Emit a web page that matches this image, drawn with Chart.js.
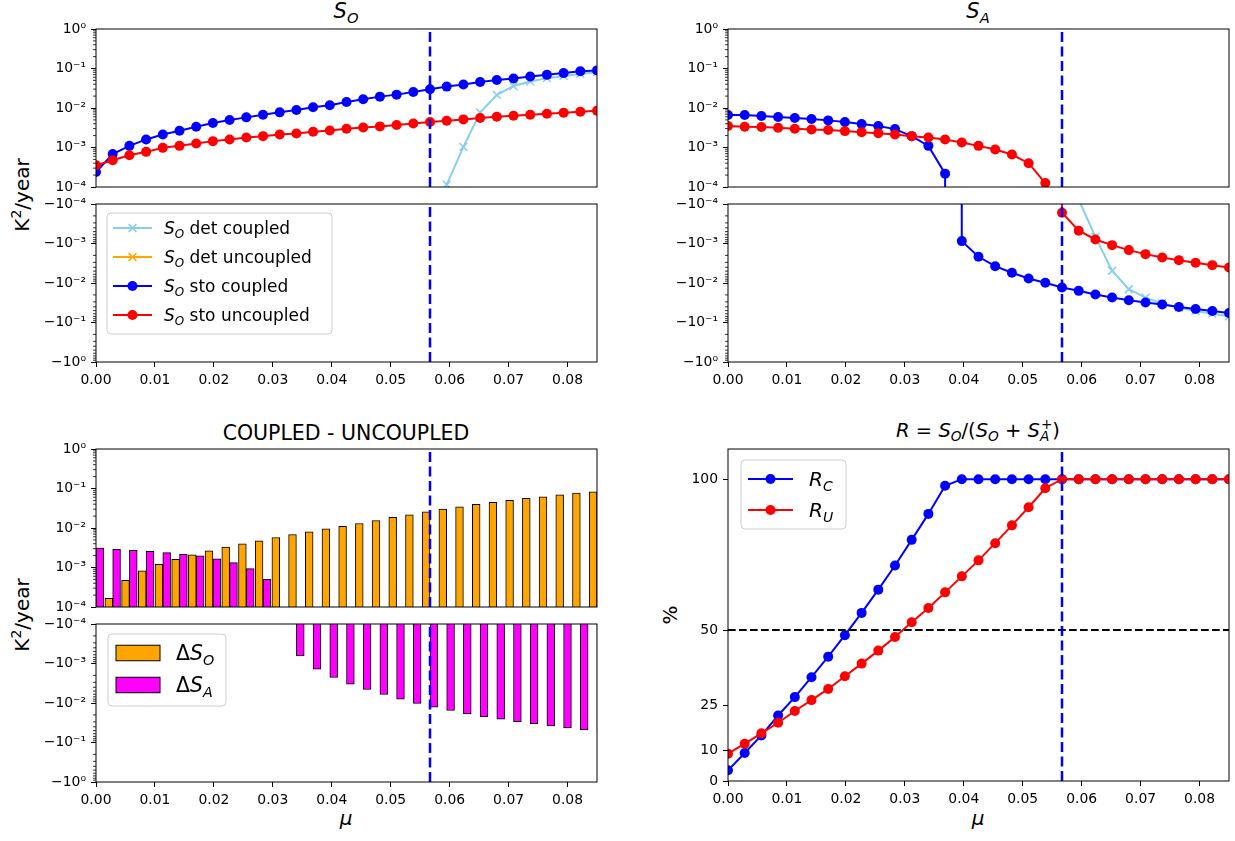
<!DOCTYPE html>
<html lang="en">

<head>
  <meta charset="UTF-8">
  <title>S_O and S_A versus mu</title>
  <style>
    body { margin: 0; background: #fff; }
    #fig { position: relative; width: 1235px; height: 841px; overflow: hidden; font-family: 'DejaVu Sans', sans-serif; color: #000; }
    .panel { position: absolute; }
    .panel canvas { display: block; }
    .lbl { position: absolute; white-space: nowrap; line-height: normal; transform: translate(-50%, -50%); }
    .lbl sub, .lbl sup { font-size: 70%; vertical-align: baseline; position: relative; }
    .lbl sub { top: 0.32em; }
    .lbl sup { top: -0.6em; }
    .lbl .ov { margin-left: -0.62em; }
    .rot { transform: translate(-50%, -50%) rotate(-90deg); }
  </style>
</head>

<body>
  <div id="fig">
    <div class="lbl" style="left:346px; top:11px; font-size:21px"><i>S</i><sub><i>O</i></sub></div>
    <div class="lbl" style="left:978px; top:11px; font-size:21px"><i>S</i><sub><i>A</i></sub></div>
    <div class="lbl" style="left:346px; top:433px; font-size:20.5px">COUPLED - UNCOUPLED</div>
    <div class="lbl" style="left:978px; top:430px; font-size:19.5px"><i>R</i> = <i>S</i><sub><i>O</i></sub>/(<i>S</i><sub><i>O</i></sub> + <i>S</i><sub><i>A</i></sub><sup class="ov">+</sup>)</div>
    <div class="lbl rot" style="left:22px; top:195px; font-size:20px">K<sup>2</sup>/year</div>
    <div class="lbl rot" style="left:22px; top:615px; font-size:20px">K<sup>2</sup>/year</div>
    <div class="lbl rot" style="left:670px; top:615px; font-size:20px">%</div>
    <div class="lbl" style="left:346px; top:818px; font-size:20px"><i>μ</i></div>
    <div class="lbl" style="left:978px; top:818px; font-size:20px"><i>μ</i></div>
  </div>

  <script src="https://cdn.jsdelivr.net/npm/chart.js"></script>
  <script>
    // mu grid, 31 values from 0 to 0.085
    const MU = [0, 0.002833, 0.005667, 0.0085, 0.011333, 0.014167, 0.017, 0.019833, 0.022667, 0.0255,
      0.028333, 0.031167, 0.034, 0.036833, 0.039667, 0.0425, 0.045333, 0.048167, 0.051, 0.053833,
      0.056667, 0.0595, 0.062333, 0.065167, 0.068, 0.070833, 0.073667, 0.0765, 0.079333, 0.082167, 0.085];
    const MU_CRIT = 0.056667;

    const X_TICKS = [0, 0.01, 0.02, 0.03, 0.04, 0.05, 0.06, 0.07, 0.08];
    const LOG_TICKS = [1e-4, 1e-3, 1e-2, 1e-1, 1];
    const R_TICKS = [0, 10, 25, 50, 100];

    const N = null;

    // S_O in K^2/year
    const SO_DET_C = [N, N, N, N, N, N, N, N, N, N, N, N, N, N, N, N, N, N, N, N, N,
      1.15e-4, 1.04e-3, 7.7e-3, 2.14e-2, 3.6e-2, 4.7e-2, 5.7e-2, 6.5e-2, 7.3e-2, 8.1e-2];
    const SO_DET_U = [N, N, N, N, N, N, N, N, N, N, N, N, N, N, N, N, N, N, N, N, N, N, N, N, N, N, N, N, N, N, N];
    const SO_STO_C = [2.4e-4, 6.8e-4, 1.10e-3, 1.60e-3, 2.14e-3, 2.65e-3, 3.35e-3, 4.16e-3, 4.95e-3, 5.79e-3,
      6.77e-3, 7.76e-3, 8.9e-3, 1.04e-2, 1.17e-2, 1.42e-2, 1.66e-2, 1.94e-2, 2.18e-2, 2.55e-2,
      2.98e-2, 3.48e-2, 3.92e-2, 4.55e-2, 5.1e-2, 5.6e-2, 6.27e-2, 6.9e-2, 7.65e-2, 8.5e-2, 8.95e-2];
    const SO_STO_U = [3.56e-4, 4.76e-4, 6.38e-4, 7.76e-4, 9.8e-4, 1.10e-3, 1.26e-3, 1.45e-3, 1.60e-3, 1.80e-3,
      1.94e-3, 2.14e-3, 2.27e-3, 2.50e-3, 2.70e-3, 2.98e-3, 3.22e-3, 3.42e-3, 3.70e-3, 4.07e-3,
      4.4e-3, 4.76e-3, 5.15e-3, 5.57e-3, 6.03e-3, 6.38e-3, 6.77e-3, 7.18e-3, 7.6e-3, 8.07e-3, 8.55e-3];

    // S_A in K^2/year
    const SA_DET_C = [N, N, N, N, N, N, N, N, N, N, N, N, N, N, N, N, N, N, N, N, N,
      -7.7e-5, -6.8e-4, -4.9e-3, -1.44e-2, -2.34e-2, -3.3e-2, -4.2e-2, -5.1e-2, -5.96e-2, -7.0e-2];
    const SA_DET_U = [N, N, N, N, N, N, N, N, N, N, N, N, N, N, N, N, N, N, N, N, N, N, N, N, N, N, N, N, N, N, N];
    const SA_STO_C = [6.64e-3, 6.64e-3, 6.26e-3, 5.9e-3, 5.57e-3, 5.25e-3, 4.86e-3, 4.4e-3, 3.92e-3, 3.49e-3,
      2.92e-3, 1.94e-3, 1.10e-3, 2.18e-4, -8.7e-4, -2.17e-3, -3.75e-3, -5.5e-3, -7.7e-3, -9.9e-3,
      -1.30e-2, -1.58e-2, -1.96e-2, -2.34e-2, -2.73e-2, -3.13e-2, -3.52e-2, -4.04e-2, -4.53e-2, -5.09e-2, -5.73e-2];
    const SA_STO_U = [3.49e-3, 3.35e-3, 3.29e-3, 3.16e-3, 2.98e-3, 2.87e-3, 2.76e-3, 2.60e-3, 2.45e-3, 2.31e-3,
      2.14e-3, 1.94e-3, 1.80e-3, 1.60e-3, 1.34e-3, 1.10e-3, 8.9e-4, 6.64e-4, 4.0e-4, 1.26e-4,
      -1.66e-4, -4.75e-4, -7.9e-4, -1.10e-3, -1.47e-3, -1.86e-3, -2.26e-3, -2.64e-3, -3.08e-3, -3.53e-3, -4.04e-3];

    // coupled - uncoupled
    const D_SO = [N, 1.66e-4, 4.75e-4, 8.2e-4, 1.21e-3, 1.62e-3, 2.08e-3, 2.64e-3, 3.27e-3, 3.97e-3,
      4.73e-3, 5.74e-3, 6.84e-3, 8.0e-3, 9.5e-3, 1.11e-2, 1.30e-2, 1.55e-2, 1.85e-2, 2.16e-2,
      2.57e-2, 3.0e-2, 3.44e-2, 3.95e-2, 4.44e-2, 4.99e-2, 5.6e-2, 6.18e-2, 6.94e-2, 7.65e-2, 8.27e-2];
    const D_SA = [3.08e-3, 2.90e-3, 2.74e-3, 2.58e-3, 2.39e-3, 2.17e-3, 1.97e-3, 1.65e-3, 1.33e-3, 9.4e-4,
      5.04e-4, N, -6.4e-4, -1.39e-3, -2.26e-3, -3.33e-3, -4.55e-3, -6.1e-3, -8.0e-3, -1.03e-2,
      -1.28e-2, -1.55e-2, -1.89e-2, -2.25e-2, -2.58e-2, -2.95e-2, -3.32e-2, -3.8e-2, -4.28e-2, -4.8e-2, -5.3e-2];

    // R = S_O / (S_O + S_A+), percent
    const R_C = [3.54, 9.27, 15.1, 21.7, 27.8, 34.4, 41.2, 48.3, 55.7, 63.4,
      71.4, 79.9, 88.5, 97.8, 100, 100, 100, 100, 100, 100,
      100, 100, 100, 100, 100, 100, 100, 100, 100, 100, 100];
    const R_U = [9.05, 12.36, 15.8, 19.3, 23.2, 26.8, 30.5, 34.7, 38.9, 43.2,
      47.7, 52.6, 57.3, 62.5, 67.8, 73.1, 78.8, 84.7, 90.7, 97.0,
      100, 100, 100, 100, 100, 100, 100, 100, 100, 100, 100];

    const BLUE = '#0000ff', RED = '#ff0000', SKY = '#87ceeb', ORANGE = '#ffa500', MAGENTA = '#ff00ff';
    const FONT = "'DejaVu Sans', sans-serif";
    const TICK_FONT = { size: 13.9, family: FONT };
    const YW = 75, PADT = 16, PADR = 14, PADB = 16, XH = 30;

    Chart.defaults.font.family = FONT;
    Chart.defaults.color = '#000';

    const SUP = { '-': '⁻', '0': '⁰', '1': '¹', '2': '²', '3': '³', '4': '⁴' };
    function logLabel(v, neg) {
      const e = String(Math.round(Math.log10(v)));
      return (neg ? '−' : '') + '10' + e.split('').map(c => SUP[c]).join('');
    }

    // split a signed series over the two log axes; values of the wrong sign
    // sink to a tiny number, like matplotlib's clipping of non-positive values
    function posPart(arr) {
      return MU.map((m, i) => ({ x: m, y: arr[i] == null ? null : (arr[i] > 0 ? arr[i] : 1e-300) }));
    }
    function negPart(arr) {
      return MU.map((m, i) => ({ x: m, y: arr[i] == null ? null : (arr[i] < 0 ? -arr[i] : 1e-300) }));
    }
    function barPart(arr, sign) {
      return MU.map((m, i) => ({ x: m, y: arr[i] != null && arr[i] * sign > 0 ? Math.abs(arr[i]) : null }));
    }
    function plain(arr) {
      return MU.map((m, i) => ({ x: m, y: arr[i] }));
    }

    function series(data, color, marker) {
      const x = marker === 'x';
      return {
        type: 'line', data, borderColor: color, backgroundColor: color, borderWidth: 2,
        pointStyle: x ? 'crossRot' : 'circle', pointRadius: x ? 5.5 : 5,
        pointBorderWidth: x ? 1.5 : 0, pointBackgroundColor: color, pointBorderColor: color,
        tension: 0, spanGaps: false, clip: 0
      };
    }
    function bars(data, color) {
      return {
        type: 'bar', data, backgroundColor: color, borderColor: '#000', borderWidth: 1,
        barThickness: 7.8, grouped: true, clip: 0
      };
    }
    function vline(from, to) {
      return {
        type: 'line', data: [{ x: MU_CRIT, y: from }, { x: MU_CRIT, y: to }],
        borderColor: BLUE, borderWidth: 2.5, borderDash: [10, 4.5], pointRadius: 0, clip: 0
      };
    }
    function hline(y) {
      return {
        type: 'line', data: [{ x: 0, y: y }, { x: 0.085, y: y }],
        borderColor: '#000', borderWidth: 2, borderDash: [7.7, 3.3], pointRadius: 0, clip: 0
      };
    }

    const tickGrid = { display: true, drawOnChartArea: false, drawTicks: true, tickLength: 5, tickColor: '#000', tickWidth: 1, offset: false };

    function xScale(show) {
      const sc = {
        type: 'linear', min: 0, max: 0.085, offset: false, display: show,
        ticks: { callback: v => v.toFixed(2), padding: 5, maxRotation: 0, autoSkip: false, font: TICK_FONT, color: '#000' },
        grid: tickGrid, border: { display: false }
      };
      if (show) {
        sc.afterBuildTicks = s => { s.ticks = X_TICKS.map(v => ({ value: v })); };
        sc.afterFit = s => { s.height = XH; };
      }
      return sc;
    }
    function yLog(neg) {
      return {
        type: 'logarithmic', min: 1e-4, max: 1, reverse: neg,
        afterBuildTicks: s => { s.ticks = LOG_TICKS.map(v => ({ value: v })); },
        afterFit: s => { s.width = YW; },
        ticks: { callback: v => logLabel(v, neg), autoSkip: false, padding: 5, font: TICK_FONT, color: '#000' },
        grid: tickGrid, border: { display: false }
      };
    }
    function yPercent() {
      return {
        type: 'linear', min: 0, max: 110,
        afterBuildTicks: s => { s.ticks = R_TICKS.map(v => ({ value: v })); },
        afterFit: s => { s.width = YW; },
        ticks: { callback: v => String(v), autoSkip: false, padding: 5, font: TICK_FONT, color: '#000' },
        grid: tickGrid, border: { display: false }
      };
    }

    // axes box, all four sides
    const framePlugin = {
      id: 'frame',
      afterDatasetsDraw(chart) {
        const a = chart.chartArea, ctx = chart.ctx;
        ctx.save();
        ctx.strokeStyle = '#000';
        ctx.lineWidth = 1;
        ctx.strokeRect(a.left, a.top, a.right - a.left, a.bottom - a.top);
        ctx.restore();
      }
    };

    // log minor ticks 2..9 x 10^k
    const minorPlugin = {
      id: 'minorTicks',
      afterDraw(chart, args, opts) {
        if (!opts.on) return;
        const ys = chart.scales.y, a = chart.chartArea, ctx = chart.ctx;
        ctx.save();
        ctx.strokeStyle = '#000';
        ctx.lineWidth = 0.8;
        ctx.beginPath();
        LOG_TICKS.slice(0, -1).forEach(d => {
          for (let m = 2; m <= 9; m++) {
            const py = ys.getPixelForValue(d * m);
            ctx.moveTo(a.left, py);
            ctx.lineTo(a.left - 3, py);
          }
        });
        ctx.stroke();
        ctx.restore();
      }
    };

    function drawRich(ctx, parts, x, y, size) {
      ctx.textAlign = 'left';
      ctx.textBaseline = 'alphabetic';
      ctx.fillStyle = '#000';
      const base = y + size * 0.36;
      parts.forEach(([t, f]) => {
        const small = f.includes('s') || f.includes('p');
        const fs = small ? size * 0.7 : size;
        ctx.font = (f.includes('i') ? 'italic ' : '') + fs + 'px ' + FONT;
        const dy = f.includes('s') ? size * 0.22 : (f.includes('p') ? -size * 0.4 : 0);
        ctx.fillText(t, x, base + dy);
        x += ctx.measureText(t).width;
      });
    }

    // matplotlib-like legend box with math-style labels
    const legendPlugin = {
      id: 'richLegend',
      afterDraw(chart, args, o) {
        if (!o.rows) return;
        const ctx = chart.ctx, a = chart.chartArea;
        const x0 = a.left + o.x, y0 = a.top + o.y;
        ctx.save();
        ctx.beginPath();
        ctx.roundRect(x0, y0, o.w, o.h, 4);
        ctx.fillStyle = 'rgba(255,255,255,0.8)';
        ctx.fill();
        ctx.strokeStyle = '#cccccc';
        ctx.lineWidth = 1;
        ctx.stroke();
        o.rows.forEach((r, k) => {
          const cy = a.top + o.row0 + k * o.gap;
          const hx = a.left + o.hx;
          const mx = hx + o.hw / 2;
          if (r.mark === 'bar') {
            ctx.fillStyle = r.color;
            ctx.fillRect(hx, cy - o.hh / 2, o.hw, o.hh);
            ctx.strokeStyle = '#000';
            ctx.lineWidth = 1;
            ctx.strokeRect(hx, cy - o.hh / 2, o.hw, o.hh);
          } else {
            ctx.strokeStyle = r.color;
            ctx.lineWidth = 2;
            ctx.beginPath();
            ctx.moveTo(hx, cy);
            ctx.lineTo(hx + o.hw, cy);
            ctx.stroke();
            if (r.mark === 'o') {
              ctx.fillStyle = r.color;
              ctx.beginPath();
              ctx.arc(mx, cy, 5, 0, Math.PI * 2);
              ctx.fill();
            } else {
              ctx.lineWidth = 1.5;
              ctx.beginPath();
              ctx.moveTo(mx - 3.9, cy - 3.9); ctx.lineTo(mx + 3.9, cy + 3.9);
              ctx.moveTo(mx - 3.9, cy + 3.9); ctx.lineTo(mx + 3.9, cy - 3.9);
              ctx.stroke();
            }
          }
          drawRich(ctx, r.text, a.left + o.tx, cy, o.size);
        });
        ctx.restore();
      }
    };

    const fig = document.getElementById('fig');

    function panel(rect, hasX, datasets, yScale, extra) {
      const w = YW + (rect.r - rect.l) + PADR;
      const h = PADT + (rect.b - rect.t) + (hasX ? XH : PADB);
      const div = document.createElement('div');
      div.className = 'panel';
      div.style.left = (rect.l - YW) + 'px';
      div.style.top = (rect.t - PADT) + 'px';
      const cv = document.createElement('canvas');
      cv.width = Math.round(w);
      cv.height = Math.round(h);
      div.appendChild(cv);
      fig.appendChild(div);
      const chart = new Chart(cv, {
        type: 'line',
        data: { datasets },
        options: {
          responsive: false, animation: false, devicePixelRatio: 1, events: [],
          layout: { padding: { left: 0, right: PADR, top: PADT, bottom: hasX ? 0 : PADB } },
          scales: { x: xScale(hasX), y: yScale },
          plugins: {
            legend: { display: false }, tooltip: { enabled: false },
            minorTicks: { on: !!extra.minor },
            richLegend: extra.legend || {}
          }
        },
        plugins: [framePlugin, minorPlugin, legendPlugin]
      });
      // put the plot area exactly on its slot
      const a = chart.chartArea;
      div.style.left = (rect.l - a.left) + 'px';
      div.style.top = (rect.t - a.top) + 'px';
      return chart;
    }

    const LEG_S = {
      x: 11, y: 9, w: 225, h: 121, row0: 24, gap: 29, hx: 17, hw: 39, tx: 68, size: 17,
      rows: [
        { color: SKY, mark: 'x', text: [['S', 'i'], ['O', 'is'], [' det coupled', '']] },
        { color: ORANGE, mark: 'x', text: [['S', 'i'], ['O', 'is'], [' det uncoupled', '']] },
        { color: BLUE, mark: 'o', text: [['S', 'i'], ['O', 'is'], [' sto coupled', '']] },
        { color: RED, mark: 'o', text: [['S', 'i'], ['O', 'is'], [' sto uncoupled', '']] }
      ]
    };
    const LEG_D = {
      x: 12, y: 10, w: 118, h: 72, row0: 29, gap: 32, hx: 20, hw: 44, hh: 15.5, tx: 80, size: 20.5,
      rows: [
        { color: ORANGE, mark: 'bar', text: [['Δ', ''], ['S', 'i'], ['O', 'is']] },
        { color: MAGENTA, mark: 'bar', text: [['Δ', ''], ['S', 'i'], ['A', 'is']] }
      ]
    };
    const LEG_R = {
      x: 13, y: 11, w: 105, h: 69, row0: 30, gap: 31, hx: 20, hw: 45, tx: 81, size: 20,
      rows: [
        { color: BLUE, mark: 'o', text: [['R', 'i'], ['C', 'is']] },
        { color: RED, mark: 'o', text: [['R', 'i'], ['U', 'is']] }
      ]
    };

    const LEFT = { l: 96, r: 596.5 }, RIGHT = { l: 727.5, r: 1228 };
    const ROW1_POS = { t: 29, b: 186.5 }, ROW1_NEG = { t: 204, b: 361.7 };
    const ROW2_POS = { t: 449.3, b: 607 }, ROW2_NEG = { t: 624, b: 781.7 };

    // datasets are listed bottom-to-top, then reversed (Chart.js draws index 0 last)
    panel({ ...LEFT, ...ROW1_POS }, false, [
      series(posPart(SO_DET_C), SKY, 'x'), series(posPart(SO_DET_U), ORANGE, 'x'),
      series(posPart(SO_STO_C), BLUE, 'o'), series(posPart(SO_STO_U), RED, 'o'),
      vline(1e-4, 1)
    ].reverse(), yLog(false), { minor: true });

    panel({ ...LEFT, ...ROW1_NEG }, true, [
      series(negPart(SO_DET_C), SKY, 'x'), series(negPart(SO_DET_U), ORANGE, 'x'),
      series(negPart(SO_STO_C), BLUE, 'o'), series(negPart(SO_STO_U), RED, 'o'),
      vline(1, 1e-4)
    ].reverse(), yLog(true), { minor: true, legend: LEG_S });

    panel({ ...RIGHT, ...ROW1_POS }, false, [
      series(posPart(SA_DET_C), SKY, 'x'), series(posPart(SA_DET_U), ORANGE, 'x'),
      series(posPart(SA_STO_C), BLUE, 'o'), series(posPart(SA_STO_U), RED, 'o'),
      vline(1e-4, 1)
    ].reverse(), yLog(false), { minor: true });

    panel({ ...RIGHT, ...ROW1_NEG }, true, [
      series(negPart(SA_DET_C), SKY, 'x'), series(negPart(SA_DET_U), ORANGE, 'x'),
      series(negPart(SA_STO_C), BLUE, 'o'), series(negPart(SA_STO_U), RED, 'o'),
      vline(1, 1e-4)
    ].reverse(), yLog(true), { minor: true });

    // bars: dS_O sits just left of each mu, dS_A just right (grouped bars)
    panel({ ...LEFT, ...ROW2_POS }, false, [
      vline(1e-4, 1), bars(barPart(D_SO, 1), ORANGE), bars(barPart(D_SA, 1), MAGENTA)
    ], yLog(false), { minor: true });

    panel({ ...LEFT, ...ROW2_NEG }, true, [
      vline(1, 1e-4), bars(barPart(D_SO, -1), ORANGE), bars(barPart(D_SA, -1), MAGENTA)
    ], yLog(true), { minor: true, legend: LEG_D });

    panel({ ...RIGHT, t: ROW2_POS.t, b: ROW2_NEG.b }, true, [
      series(plain(R_C), BLUE, 'o'), series(plain(R_U), RED, 'o'),
      hline(50), vline(0, 110)
    ].reverse(), yPercent(), { legend: LEG_R });
  </script>
</body>

</html>
